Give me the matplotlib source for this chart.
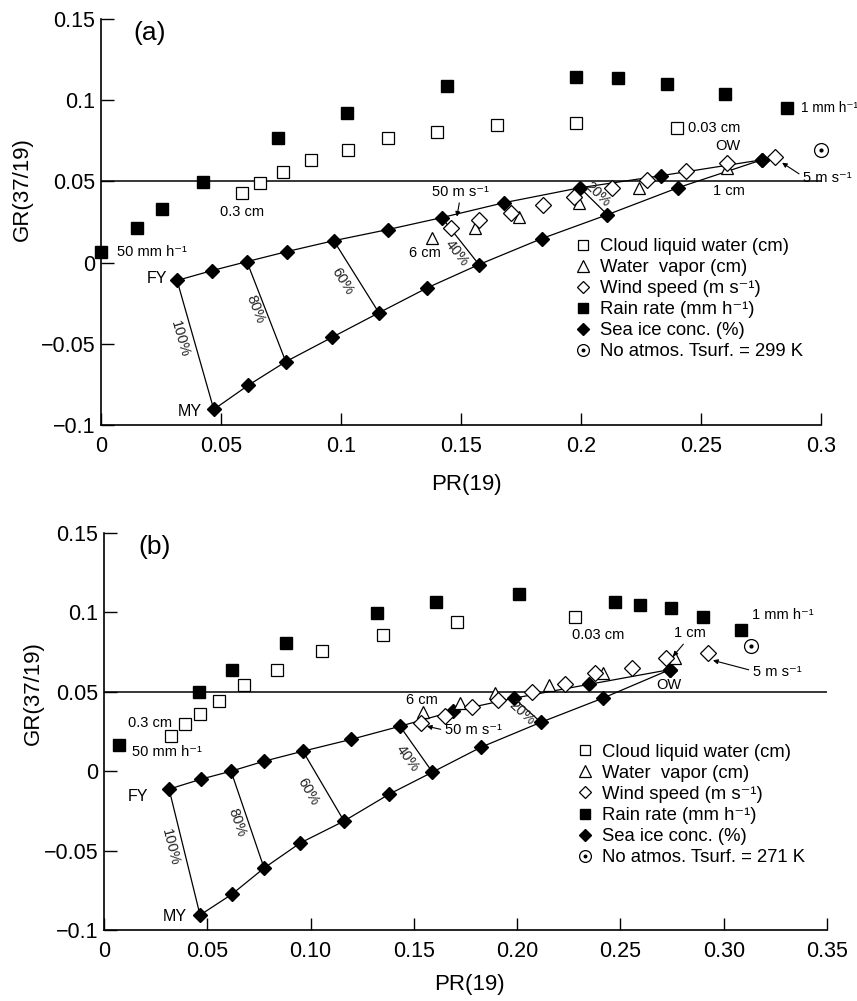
import matplotlib
matplotlib.use('Agg')
import matplotlib.pyplot as plt
from matplotlib.lines import Line2D
from matplotlib.legend_handler import HandlerTuple

plt.rcParams['font.family'] = ['Liberation Sans', 'DejaVu Sans']

# ---- panel (a): Tsurf = 299 K ----
a_cloud_x = [0.0587, 0.0662, 0.0757, 0.0877, 0.103, 0.1196, 0.140, 0.165, 0.198, 0.240]
a_cloud_y = [0.043, 0.049, 0.056, 0.0629, 0.0695, 0.0768, 0.0807, 0.0848, 0.0862, 0.083]
a_vapor_x = [0.138, 0.156, 0.174, 0.199, 0.224, 0.261]
a_vapor_y = [0.0154, 0.0215, 0.0283, 0.0369, 0.0461, 0.0584]
a_wind_x = [0.146, 0.1575, 0.171, 0.184, 0.197, 0.213, 0.2275, 0.2437, 0.261, 0.281]
a_wind_y = [0.0215, 0.0264, 0.0307, 0.0356, 0.0405, 0.0461, 0.051, 0.0565, 0.0615, 0.065]
a_rain_x = [0.000, 0.015, 0.0254, 0.0425, 0.0737, 0.1025, 0.144, 0.198, 0.2154, 0.236, 0.260, 0.286]
a_rain_y = [0.0068, 0.0215, 0.033, 0.0498, 0.0768, 0.0922, 0.1088, 0.1143, 0.1137, 0.110, 0.1039, 0.095]
# sea ice: first-year -> open water and multi-year -> open water
a_fy_x = [0.0317, 0.0463, 0.0608, 0.0775, 0.097, 0.1194, 0.142, 0.168, 0.1996, 0.2333, 0.2754]
a_fy_y = [-0.011, -0.0049, 0.0006, 0.0068, 0.0135, 0.0203, 0.0277, 0.0369, 0.0461, 0.0535, 0.0633]
a_my_x = [0.047, 0.0613, 0.077, 0.0963, 0.1158, 0.136, 0.1575, 0.1837, 0.211, 0.2404, 0.2754]
a_my_y = [-0.0904, -0.0756, -0.061, -0.046, -0.0309, -0.0155, -0.0012, 0.0148, 0.0295, 0.0461, 0.0633]
a_bare = (0.300, 0.0695)

# ---- panel (b): Tsurf = 271 K ----
b_cloud_x = [0.0324, 0.0392, 0.0465, 0.0557, 0.0678, 0.0837, 0.1055, 0.135, 0.1709, 0.228]
b_cloud_y = [0.022, 0.0296, 0.0358, 0.044, 0.054, 0.064, 0.0755, 0.0855, 0.0937, 0.0969]
b_vapor_x = [0.1544, 0.1723, 0.1893, 0.2154, 0.2415, 0.2764]
b_vapor_y = [0.0371, 0.0428, 0.049, 0.054, 0.0616, 0.071]
b_wind_x = [0.1534, 0.165, 0.178, 0.1907, 0.207, 0.2231, 0.2377, 0.2556, 0.272, 0.2924]
b_wind_y = [0.0302, 0.0346, 0.0403, 0.0447, 0.0497, 0.0547, 0.0616, 0.0648, 0.071, 0.0742]
b_rain_x = [0.0073, 0.046, 0.062, 0.088, 0.132, 0.1607, 0.2009, 0.2473, 0.2594, 0.2744, 0.290, 0.3083]
b_rain_y = [0.0164, 0.0497, 0.064, 0.081, 0.0994, 0.1063, 0.1113, 0.1063, 0.1044, 0.1025, 0.097, 0.0887]
b_fy_x = [0.0315, 0.047, 0.0615, 0.0775, 0.0963, 0.1195, 0.1433, 0.169, 0.1985, 0.2348, 0.274]
b_fy_y = [-0.0113, -0.005, 0.0, 0.0063, 0.0126, 0.020, 0.0283, 0.0377, 0.046, 0.0547, 0.064]
b_my_x = [0.0465, 0.062, 0.0775, 0.0949, 0.1162, 0.138, 0.159, 0.1825, 0.2115, 0.2415, 0.274]
b_my_y = [-0.0906, -0.0774, -0.061, -0.0453, -0.0314, -0.0145, -0.0006, 0.0151, 0.0308, 0.046, 0.064]
b_bare = (0.3132, 0.0786)

# concentration isolines join FY/MY points with the same index
conc_idx = [0, 2, 4, 6, 8]
conc_labels = ['100%', '80%', '60%', '40%', '20%']

y_ticks = [-0.1, -0.05, 0, 0.05, 0.1, 0.15]
y_ticklabels = ['\u22120.1', '\u22120.05', '0', '0.05', '0.1', '0.15']
a_xticks = [0, 0.05, 0.1, 0.15, 0.2, 0.25, 0.3]
a_xticklabels = ['0', '0.05', '0.1', '0.15', '0.2', '0.25', '0.3']
b_xticks = [0, 0.05, 0.10, 0.15, 0.20, 0.25, 0.30, 0.35]
b_xticklabels = ['0', '0.05', '0.10', '0.15', '0.20', '0.25', '0.30', '0.35']

legend_labels = ['Cloud liquid water (cm)', 'Water  vapor (cm)', 'Wind speed (m s\u207b\u00b9)',
                 'Rain rate (mm h\u207b\u00b9)', 'Sea ice conc. (%)']

ANN = 10.5


def draw_panel(ax, cloud, vapor, wind, rain, fy, my, bare, xmax, xticks, xticklabels):
    ax.axhline(0.05, color='k', lw=1.1, zorder=1)

    # sea ice grid lines
    ax.plot(fy[0], fy[1], color='k', lw=0.9, zorder=2)
    ax.plot(my[0], my[1], color='k', lw=0.9, zorder=2)
    for i in conc_idx:
        ax.plot([fy[0][i], my[0][i]], [fy[1][i], my[1][i]], color='k', lw=0.9, zorder=2)

    ax.plot(fy[0] + my[0], fy[1] + my[1], ls='none', marker='D', ms=7.5, mfc='k', mec='k', zorder=3)
    ax.plot(rain[0], rain[1], ls='none', marker='s', ms=9, mfc='k', mec='k', zorder=3, clip_on=False)
    ax.plot(cloud[0], cloud[1], ls='none', marker='s', ms=8.5, mfc='white', mec='k', mew=0.9, zorder=4)
    ax.plot(vapor[0], vapor[1], ls='none', marker='^', ms=9, mfc='white', mec='k', mew=0.9, zorder=4)
    ax.plot(wind[0], wind[1], ls='none', marker='D', ms=7.8, mfc='white', mec='k', mew=0.9, zorder=5)
    ax.plot(bare[0], bare[1], ls='none', marker='o', ms=10, mfc='white', mec='k', mew=0.9, zorder=4, clip_on=False)
    ax.plot(bare[0], bare[1], ls='none', marker='o', ms=2, mfc='k', mec='k', zorder=5, clip_on=False)

    ax.set_xlim(0, xmax)
    ax.set_ylim(-0.1, 0.15)
    ax.set_xticks(xticks)
    ax.set_xticklabels(xticklabels)
    ax.set_yticks(y_ticks)
    ax.set_yticklabels(y_ticklabels)
    ax.tick_params(direction='in', length=9, width=1, labelsize=15.5)
    ax.tick_params(axis='x', pad=8)
    ax.tick_params(axis='y', pad=4)
    for s in ['top', 'right']:
        ax.spines[s].set_visible(False)
    for s in ['left', 'bottom']:
        ax.spines[s].set_linewidth(1.2)

    ax.set_xlabel('PR(19)', fontsize=16)
    ax.set_ylabel('GR(37/19)', fontsize=16)


def add_legend(ax, tsurf, anchor):
    handles = [
        Line2D([], [], ls='none', marker='s', ms=7.5, mfc='white', mec='k', mew=0.9),
        Line2D([], [], ls='none', marker='^', ms=8.5, mfc='white', mec='k', mew=0.9),
        Line2D([], [], ls='none', marker='D', ms=6.3, mfc='white', mec='k', mew=0.9),
        Line2D([], [], ls='none', marker='s', ms=7.5, mfc='k', mec='k'),
        Line2D([], [], ls='none', marker='D', ms=6.5, mfc='k', mec='k'),
        (Line2D([], [], ls='none', marker='o', ms=8.5, mfc='white', mec='k', mew=0.9),
         Line2D([], [], ls='none', marker='o', ms=1.8, mfc='k', mec='k')),
    ]
    labels = legend_labels + ['No atmos. Tsurf. = %d K' % tsurf]
    ax.legend(handles, labels, loc='center left', bbox_to_anchor=anchor, frameon=False,
              fontsize=13.3, handlelength=1.0, handletextpad=0.38, labelspacing=0.22,
              borderpad=0, borderaxespad=0,
              handler_map={tuple: HandlerTuple(ndivide=1, pad=0)})


def conc_text(ax, pos, rots):
    for (x, y), r, t in zip(pos, rots, conc_labels):
        ax.text(x, y, t, fontsize=ANN, rotation=r, rotation_mode='anchor',
                ha='center', va='center', color='#222222', zorder=6)


def arrow(ax, text, xy, xytext, ha, relpos):
    ax.annotate(text, xy=xy, xytext=xytext, fontsize=ANN, ha=ha, va='center',
                arrowprops=dict(arrowstyle='-|>', color='k', lw=0.8, mutation_scale=7,
                                shrinkA=1, shrinkB=0, relpos=relpos), zorder=6)


def main():
    fig = plt.figure(figsize=(8.57, 10.01), dpi=100)
    ax_a = fig.add_axes([0.11785, 0.57542, 0.8401, 0.4056])
    ax_b = fig.add_axes([0.12135, 0.07093, 0.84364, 0.3966])

    # --- panel (a) ---
    draw_panel(ax_a, (a_cloud_x, a_cloud_y), (a_vapor_x, a_vapor_y), (a_wind_x, a_wind_y),
               (a_rain_x, a_rain_y), (a_fy_x, a_fy_y), (a_my_x, a_my_y), a_bare,
               0.3, a_xticks, a_xticklabels)
    ax_a.yaxis.set_label_coords(-0.094, 0.58)
    ax_a.xaxis.set_label_coords(0.507, -0.121)
    add_legend(ax_a, 299, (0.657, 0.310))
    ax_a.text(0.0133, 0.1414, '(a)', fontsize=19, ha='left', va='center')
    ax_a.text(0.0067, 0.0068, '50 mm h\u207b\u00b9', fontsize=ANN, ha='left', va='center')
    ax_a.text(0.0588, 0.0313, '0.3 cm', fontsize=ANN, ha='center', va='center')
    ax_a.text(0.135, 0.0061, '6 cm', fontsize=ANN, ha='center', va='center')
    ax_a.text(0.2446, 0.083, '0.03 cm', fontsize=ANN, ha='left', va='center')
    ax_a.text(0.2613, 0.0719, 'OW', fontsize=ANN, ha='center', va='center')
    ax_a.text(0.2617, 0.0443, '1 cm', fontsize=ANN, ha='center', va='center')
    ax_a.text(0.2915, 0.0953, '1 mm h\u207b\u00b9', fontsize=9.8, ha='left', va='center')
    ax_a.text(0.0233, -0.0098, 'FY', fontsize=ANN + 1, ha='center', va='center')
    ax_a.text(0.0371, -0.0916, 'MY', fontsize=ANN + 1, ha='center', va='center')
    arrow(ax_a, '50 m s\u207b\u00b9', (0.1483, 0.0283), (0.1496, 0.0436), 'center', (0.5, 0.0))
    arrow(ax_a, '5 m s\u207b\u00b9', (0.2838, 0.0615), (0.2925, 0.0522), 'left', (0.0, 0.6))
    conc_text(ax_a, [(0.0329, -0.0473), (0.0642, -0.0289), (0.1004, -0.0117),
                     (0.1483, 0.0061), (0.2067, 0.0418)], [-74, -69, -58, -52, -44])

    # --- panel (b) ---
    draw_panel(ax_b, (b_cloud_x, b_cloud_y), (b_vapor_x, b_vapor_y), (b_wind_x, b_wind_y),
               (b_rain_x, b_rain_y), (b_fy_x, b_fy_y), (b_my_x, b_my_y), b_bare,
               0.35, b_xticks, b_xticklabels)
    ax_b.yaxis.set_label_coords(-0.083, 0.597)
    ax_b.xaxis.set_label_coords(0.506, -0.111)
    add_legend(ax_b, 271, (0.653, 0.315))
    ax_b.text(0.01646, 0.1409, '(b)', fontsize=19, ha='left', va='center')
    ax_b.text(0.01355, 0.012, '50 mm h\u207b\u00b9', fontsize=ANN, ha='left', va='center')
    ax_b.text(0.0223, 0.0302, '0.3 cm', fontsize=ANN, ha='center', va='center')
    ax_b.text(0.1539, 0.0447, '6 cm', fontsize=ANN, ha='center', va='center')
    ax_b.text(0.2391, 0.0855, '0.03 cm', fontsize=ANN, ha='center', va='center')
    ax_b.text(0.2735, 0.0541, 'OW', fontsize=ANN, ha='center', va='center')
    ax_b.text(0.3136, 0.0981, '1 mm h\u207b\u00b9', fontsize=ANN, ha='left', va='center')
    ax_b.text(0.01646, -0.0157, 'FY', fontsize=ANN + 1, ha='center', va='center')
    ax_b.text(0.0344, -0.0918, 'MY', fontsize=ANN + 1, ha='center', va='center')
    arrow(ax_b, '50 m s\u207b\u00b9', (0.1563, 0.0283), (0.165, 0.0258), 'left', (0.0, 0.5))
    arrow(ax_b, '1 cm', (0.2754, 0.0723), (0.2836, 0.0868), 'center', (0.4, 0.0))
    arrow(ax_b, '5 m s\u207b\u00b9', (0.2948, 0.0698), (0.3141, 0.0623), 'left', (0.0, 0.6))
    conc_text(ax_b, [(0.0319, -0.0478), (0.0644, -0.0321), (0.0987, -0.0132),
                     (0.1471, 0.0082), (0.2023, 0.0365)], [-76, -71, -60, -54, -42])

    fig.savefig('out.png', dpi=100)


if __name__ == "__main__":
    main()
